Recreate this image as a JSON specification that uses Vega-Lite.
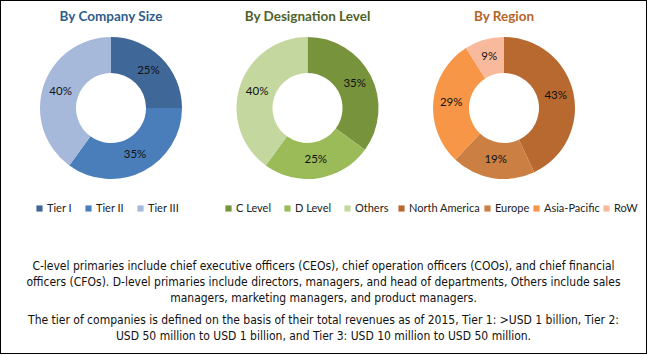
{
  "$schema": "https://vega.github.io/schema/vega-lite/v6.json",
  "width": 647,
  "height": 354,
  "padding": 0,
  "autosize": {"type": "none"},
  "background": "white",
  "config": {
    "view": {"stroke": "#000000", "strokeWidth": 2},
    "font": "Lato",
    "legend": {"padding": 0, "title": null, "orient": "none", "direction": "horizontal", "symbolType": "square", "symbolSize": 38, "symbolStrokeWidth": 0, "labelFont": "Lato", "labelFontSize": 11, "labelColor": "#222222", "labelOffset": 2, "gridAlign": "none", "rowPadding": 0}
  },
  "datasets": {
    "slices": [
      {"chart": "Company Size", "category": "Tier I", "value": 0.25, "order": 1},
      {"chart": "Company Size", "category": "Tier II", "value": 0.35, "order": 2},
      {"chart": "Company Size", "category": "Tier III", "value": 0.40, "order": 3},
      {"chart": "Designation Level", "category": "C Level", "value": 0.35, "order": 1},
      {"chart": "Designation Level", "category": "D Level", "value": 0.25, "order": 2},
      {"chart": "Designation Level", "category": "Others", "value": 0.40, "order": 3},
      {"chart": "Region", "category": "North America", "value": 0.43, "order": 1},
      {"chart": "Region", "category": "Europe", "value": 0.19, "order": 2},
      {"chart": "Region", "category": "Asia-Pacific", "value": 0.29, "order": 3},
      {"chart": "Region", "category": "RoW", "value": 0.09, "order": 4}
    ],
    "titles": [
      {"chart": "Company Size", "title": "By Company Size"},
      {"chart": "Designation Level", "title": "By Designation Level"},
      {"chart": "Region", "title": "By Region"}
    ],
    "notes": [
      {"para": "A", "text": ["C-level primaries include chief executive officers (CEOs), chief operation officers (COOs), and chief financial", "officers (CFOs). D-level primaries include directors, managers, and head of departments, Others include sales", "managers, marketing managers, and product managers."]},
      {"para": "B", "text": ["The tier of companies is defined on the basis of their total revenues as of 2015, Tier 1: >USD 1 billion, Tier 2:", "USD 50 million to USD 1 billion, and Tier 3: USD 10 million to USD 50 million."]}
    ]
  },
  "layer": [
    {
      "data": {"name": "titles"},
      "mark": {"type": "text", "font": "Lato", "fontWeight": "bold", "fontSize": 13.5, "baseline": "middle", "align": "center"},
      "encoding": {
        "x": {"field": "chart", "type": "nominal", "scale": {"type": "point", "domain": ["Company Size", "Designation Level", "Region"], "range": [111, 504], "padding": 0}, "axis": null},
        "y": {"datum": "title", "type": "nominal", "scale": {"type": "point", "domain": ["title", "donut"], "range": [17, 108], "padding": 0}, "axis": null},
        "text": {"field": "title", "type": "nominal"},
        "color": {"field": "chart", "type": "nominal", "scale": {"domain": ["Company Size", "Designation Level", "Region"], "range": ["#2F5C8C", "#4F6228", "#B5642A"]}, "legend": null}
      }
    },
    {
      "data": {"name": "slices"},
      "transform": [{"filter": "datum.chart === 'Company Size'"}],
      "encoding": {
        "x": {"field": "chart", "type": "nominal", "scale": {"type": "point", "domain": ["Company Size", "Designation Level", "Region"], "range": [111, 504], "padding": 0}, "axis": null},
        "y": {"datum": "donut", "type": "nominal", "scale": {"type": "point", "domain": ["title", "donut"], "range": [17, 108], "padding": 0}, "axis": null},
        "theta": {"field": "value", "type": "quantitative", "stack": true, "scale": {"domain": [0, 1]}},
        "order": {"field": "order", "type": "quantitative"}
      },
      "layer": [
        {
          "mark": {"type": "arc", "innerRadius": 35, "outerRadius": 71},
          "encoding": {
            "color": {"field": "category", "type": "nominal", "scale": {"domain": ["Tier I", "Tier II", "Tier III"], "range": ["#3F6797", "#4A7EBB", "#A7B9DA"]}, "legend": {"legendX": 34, "legendY": 203, "columns": 3, "columnPadding": 11}}
          }
        },
        {
          "mark": {"type": "text", "radius": 53, "font": "Lato", "fontSize": 11.5, "color": "#111111"},
          "encoding": {
            "detail": {"field": "category", "type": "nominal"},
            "text": {"field": "value", "type": "quantitative", "format": ".0%"}
          }
        }
      ]
    },
    {
      "data": {"name": "slices"},
      "transform": [{"filter": "datum.chart === 'Designation Level'"}],
      "encoding": {
        "x": {"field": "chart", "type": "nominal", "scale": {"type": "point", "domain": ["Company Size", "Designation Level", "Region"], "range": [111, 504], "padding": 0}, "axis": null},
        "y": {"datum": "donut", "type": "nominal", "scale": {"type": "point", "domain": ["title", "donut"], "range": [17, 108], "padding": 0}, "axis": null},
        "theta": {"field": "value", "type": "quantitative", "stack": true, "scale": {"domain": [0, 1]}},
        "order": {"field": "order", "type": "quantitative"}
      },
      "layer": [
        {
          "mark": {"type": "arc", "innerRadius": 35, "outerRadius": 71},
          "encoding": {
            "color": {"field": "category", "type": "nominal", "scale": {"domain": ["C Level", "D Level", "Others"], "range": ["#77933C", "#9BBB59", "#C4D79E"]}, "legend": {"legendX": 223, "legendY": 203, "columns": 3, "columnPadding": 10}}
          }
        },
        {
          "mark": {"type": "text", "radius": 53, "font": "Lato", "fontSize": 11.5, "color": "#111111"},
          "encoding": {
            "detail": {"field": "category", "type": "nominal"},
            "text": {"field": "value", "type": "quantitative", "format": ".0%"}
          }
        }
      ]
    },
    {
      "data": {"name": "slices"},
      "transform": [{"filter": "datum.chart === 'Region'"}],
      "encoding": {
        "x": {"field": "chart", "type": "nominal", "scale": {"type": "point", "domain": ["Company Size", "Designation Level", "Region"], "range": [111, 504], "padding": 0}, "axis": null},
        "y": {"datum": "donut", "type": "nominal", "scale": {"type": "point", "domain": ["title", "donut"], "range": [17, 108], "padding": 0}, "axis": null},
        "theta": {"field": "value", "type": "quantitative", "stack": true, "scale": {"domain": [0, 1]}},
        "order": {"field": "order", "type": "quantitative"}
      },
      "layer": [
        {
          "mark": {"type": "arc", "innerRadius": 35, "outerRadius": 71},
          "encoding": {
            "color": {"field": "category", "type": "nominal", "scale": {"domain": ["North America", "Europe", "Asia-Pacific", "RoW"], "range": ["#B7692F", "#CB7F42", "#F79646", "#F9B99C"]}, "legend": {"legendX": 396, "legendY": 203, "columns": 4, "columnPadding": 1}}
          }
        },
        {
          "mark": {"type": "text", "radius": 53, "font": "Lato", "fontSize": 11.5, "color": "#111111"},
          "encoding": {
            "detail": {"field": "category", "type": "nominal"},
            "text": {"field": "value", "type": "quantitative", "format": ".0%"}
          }
        }
      ]
    },
    {
      "data": {"name": "notes"},
      "mark": {"type": "text", "font": "DejaVu Sans Condensed", "fontSize": 12, "lineHeight": 16, "align": "center", "baseline": "middle", "color": "#111111"},
      "encoding": {
        "y": {"field": "para", "type": "nominal", "scale": {"type": "point", "domain": ["A", "B"], "range": [266, 320], "padding": 0}, "axis": null},
        "text": {"field": "text", "type": "nominal"}
      }
    }
  ],
  "resolve": {"scale": {"color": "independent", "y": "independent"}}
}
